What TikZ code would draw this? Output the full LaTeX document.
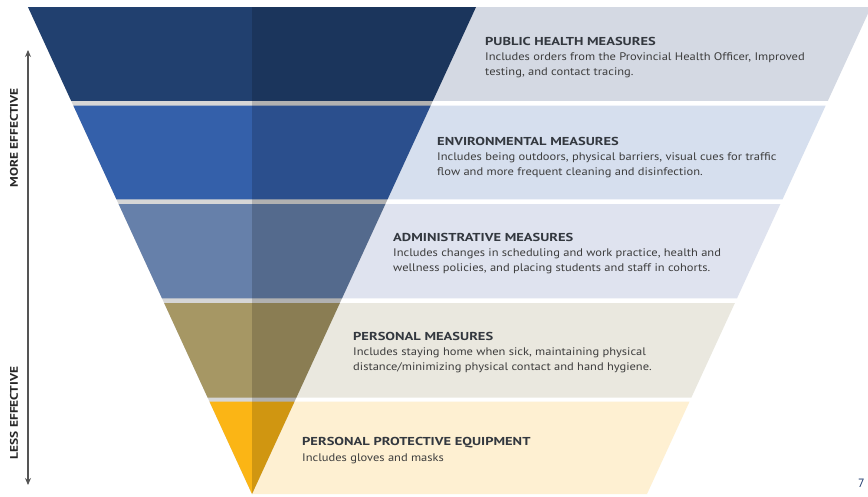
\documentclass[tikz,border=0pt]{standalone}
\usepackage{fontspec}
\setmainfont{PT Sans}
\newfontfamily\bodyfont[FakeStretch=1.135]{PT Sans}
\newfontfamily\headfont[FakeStretch=1.26]{PT Sans Bold}
\newfontfamily\sidefont[FakeStretch=1.22]{PT Sans Bold}
\usetikzlibrary{arrows.meta}
\definecolor{db1}{HTML}{21406F}
\definecolor{db2}{HTML}{3460AA}
\definecolor{db3}{HTML}{6680AA}
\definecolor{db4}{HTML}{A69764}
\definecolor{db5}{HTML}{FBB515}
\definecolor{lb1}{HTML}{D4D9E3}
\definecolor{lb2}{HTML}{D6DFEE}
\definecolor{lb3}{HTML}{DFE3EF}
\definecolor{lb4}{HTML}{EAE8DF}
\definecolor{lb5}{HTML}{FEF0D2}
\definecolor{gapgray}{HTML}{D6D6D6}
\definecolor{headc}{HTML}{33383F}
\definecolor{bodyc}{HTML}{3D3D3D}
\definecolor{arrowc}{HTML}{555555}
\definecolor{pagec}{HTML}{1F3A6E}
\tikzset{
  head/.style={font=\headfont\fontsize{11.5}{13}\selectfont, text=headc, anchor=base west, inner sep=0pt},
  body/.style={font=\bodyfont\fontsize{11}{13}\selectfont, text=bodyc, anchor=base west, inner sep=0pt},
  side/.style={font=\sidefont\fontsize{11}{12}\selectfont, text=black!85, rotate=90, inner sep=0pt},
}
\begin{document}
\begin{tikzpicture}[x=1pt,y=-1pt]
\useasboundingbox (0,0) rectangle (868,496);
\fill[white] (0,0) rectangle (868,496);
% light bands
\foreach \t/\b/\lc in {7/100.8/lb1, 105.5/199.3/lb2, 204/298.3/lb3, 303/397.5/lb4, 401.5/494/lb5} {
  \fill[\lc] ({252+0.46*(494-\t)},\t) -- ({647+0.46*(494-\t)},\t) -- ({647+0.46*(494-\b)},\b) -- ({252+0.46*(494-\b)},\b) -- cycle;
}
% funnel background (gaps)
\fill[gapgray] (28,7) -- (476,7) -- (252,494) -- cycle;
% dark bands
\foreach \t/\b/\dc in {7/100.8/db1, 105.5/199.3/db2, 204/298.3/db3, 303/397.5/db4, 401.5/494/db5} {
  \fill[\dc] ({252-0.46*(494-\t)},\t) -- ({252+0.46*(494-\t)},\t) -- ({252+0.46*(494-\b)},\b) -- ({252-0.46*(494-\b)},\b) -- cycle;
}
% darker right half
\fill[black,opacity=0.17] (252,7) -- (476,7) -- (252,494) -- cycle;
% side arrow
\coordinate (atop) at (28,50);
\coordinate (abot) at (28,485);
\draw[arrowc, line width=1.1pt, {Stealth[length=7pt,width=6pt]}-{Stealth[length=7pt,width=6pt]}] (abot) -- (atop);
\node[side] (more) at (14,138) {MORE EFFECTIVE};
\node[side] (less) at (14,413) {LESS EFFECTIVE};
% texts
\node[head] (h1) at (485,45) {PUBLIC HEALTH MEASURES};
\node[body] (b1a) at (485,60.5) {Includes orders from the Provincial Health Officer, Improved};
\node[body] (b1b) at (485,75) {testing, and contact tracing.};
\node[head] (h2) at (437,145) {ENVIRONMENTAL MEASURES};
\node[body] (b2a) at (437,160.5) {Includes being outdoors, physical barriers, visual cues for traffic};
\node[body] (b2b) at (437,175) {flow and more frequent cleaning and disinfection.};
\node[head] (h3) at (393,241) {ADMINISTRATIVE MEASURES};
\node[body] (b3a) at (393,256.5) {Includes changes in scheduling and work practice, health and};
\node[body] (b3b) at (393,271) {wellness policies, and placing students and staff in cohorts.};
\node[head] (h4) at (353,340) {PERSONAL MEASURES};
\node[body] (b4a) at (353,355.5) {Includes staying home when sick, maintaining physical};
\node[body] (b4b) at (353,370) {distance/minimizing physical contact and hand hygiene.};
\node[head] (h5) at (302,445) {PERSONAL PROTECTIVE EQUIPMENT};
\node[body] (b5a) at (302,461) {Includes gloves and masks};
\node[font=\fontsize{12}{14}\selectfont, text=pagec, anchor=base west, inner sep=0pt] (page) at (858,487) {7};
\end{tikzpicture}
\end{document}
